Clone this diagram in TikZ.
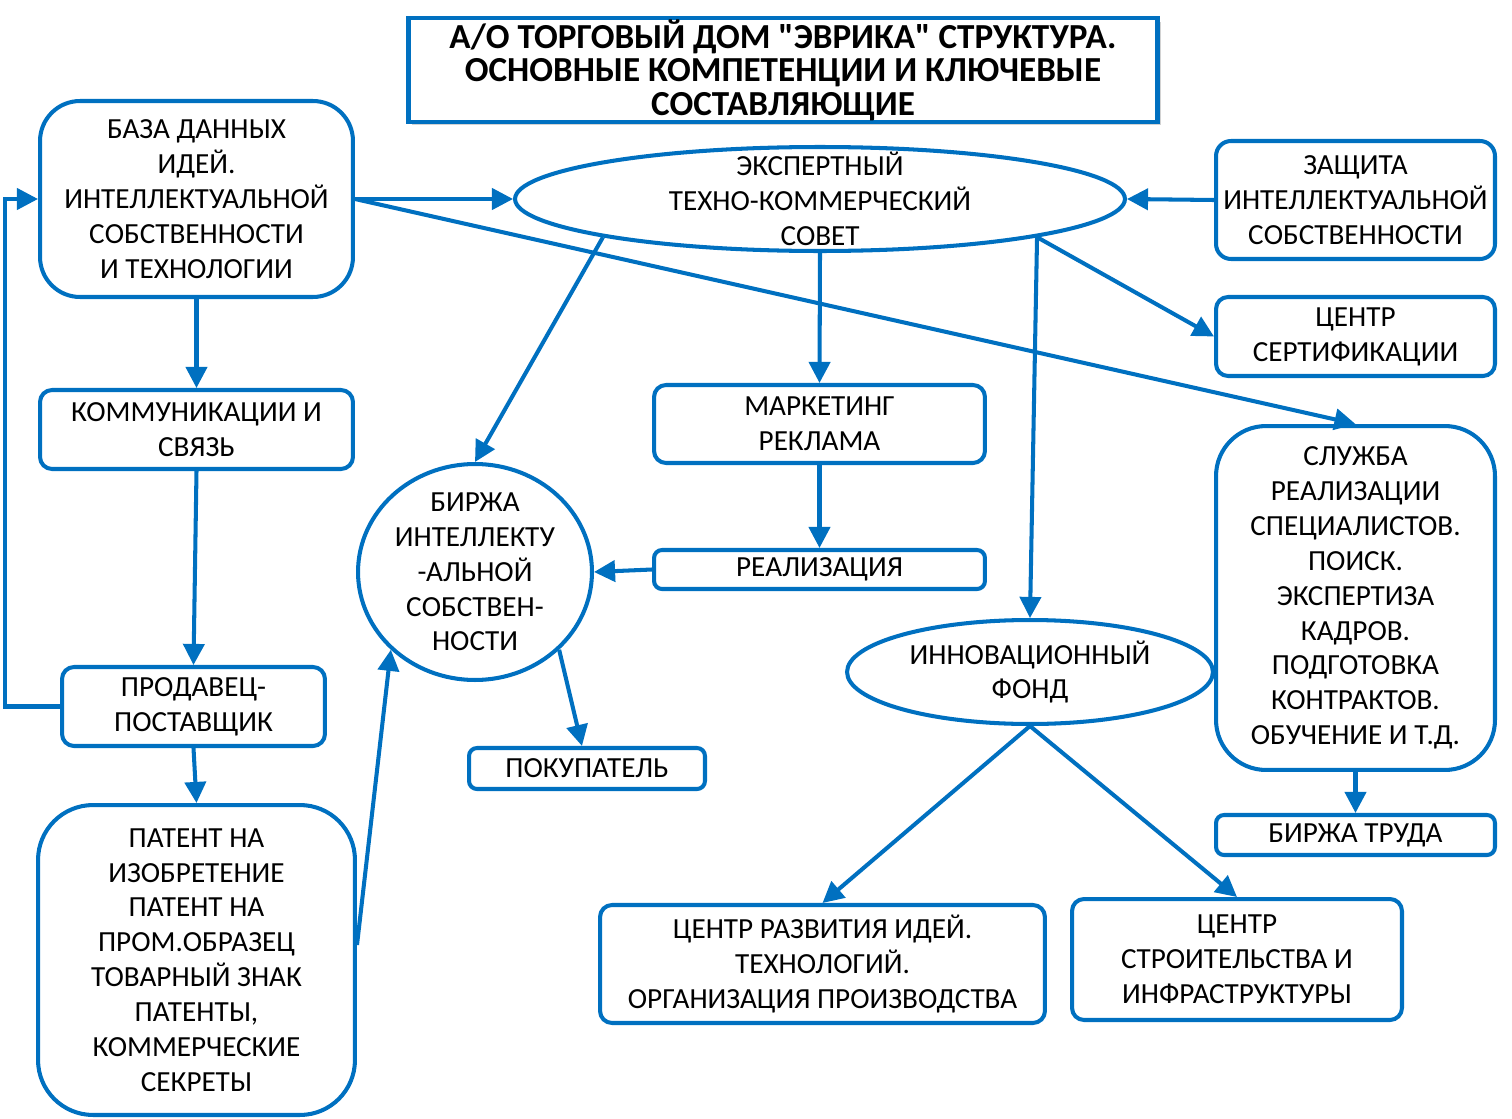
\documentclass[tikz,border=0pt]{standalone}
\usepackage{fontspec}
\setmainfont{Carlito}
\newfontfamily\titlefont{Carlito}
\usetikzlibrary{arrows.meta}
\usetikzlibrary{shapes.geometric}
\usetikzlibrary{shadows}
\definecolor{boxblue}{RGB}{0,112,192}

\begin{document}
\begin{tikzpicture}[x=0.02cm,y=-0.02cm,line width=2.3pt,
                every node/.style={font=\fontsize{16.6}{19.84}\selectfont,align=center,inner sep=0pt},
                box/.style={draw=boxblue,rounded corners=0.24cm},
                oval/.style={draw=boxblue,ellipse,inner sep=-0.4cm},
                link/.style={draw=boxblue,-{Triangle[length=12pt,width=12pt]}}]
                \useasboundingbox (0,0) rectangle (1512,1119);

                \node[draw=boxblue,line width=2.8pt,fill=white,minimum width=15cm,minimum height=2.08cm,
                      drop shadow={shadow xshift=0.07cm,shadow yshift=-0.07cm,fill=black!35},
                      font=\titlefont\fontsize{20}{19}\selectfont\bfseries] (title) at (783,70)
                      {А/О ТОРГОВЫЙ ДОМ "ЭВРИКА" СТРУКТУРА.\\ОСНОВНЫЕ КОМПЕТЕНЦИИ И КЛЮЧЕВЫЕ\\СОСТАВЛЯЮЩИЕ};

                \node[box,rounded corners=0.8cm,minimum width=6.26cm,minimum height=3.92cm] (db) at (196.5,199)
                      {БАЗА ДАННЫХ\\ИДЕЙ.\\ИНТЕЛЛЕКТУАЛЬНОЙ\\СОБСТВЕННОСТИ\\И ТЕХНОЛОГИИ};
                \node[box,minimum width=6.26cm,minimum height=1.58cm] (comm) at (196.5,429.5)
                      {КОММУНИКАЦИИ И\\СВЯЗЬ};
                \node[box,minimum width=5.26cm,minimum height=1.58cm] (seller) at (193.5,706.5)
                      {ПРОДАВЕЦ-\\ПОСТАВЩИК};
                \node[box,rounded corners=1.1cm,minimum width=6.34cm,minimum height=6.2cm] (patent) at (196.5,960)
                      {ПАТЕНТ НА\\ИЗОБРЕТЕНИЕ\\ПАТЕНТ НА\\ПРОМ.ОБРАЗЕЦ\\ТОВАРНЫЙ ЗНАК\\ПАТЕНТЫ,\\КОММЕРЧЕСКИЕ\\СЕКРЕТЫ};

                \node[oval,minimum width=12.2cm,minimum height=2.08cm] (council) at (820,199)
                      {ЭКСПЕРТНЫЙ\\ТЕХНО-КОММЕРЧЕСКИЙ\\СОВЕТ};
                \node[box,rounded corners=0.3cm,minimum width=5.58cm,minimum height=2.36cm] (protect) at (1355.5,200)
                      {ЗАЩИТА\\ИНТЕЛЛЕКТУАЛЬНОЙ\\СОБСТВЕННОСТИ};
                \node[box,minimum width=5.58cm,minimum height=1.58cm] (cert) at (1355.5,336.5)
                      {ЦЕНТР\\СЕРТИФИКАЦИИ};
                \node[box,minimum width=6.62cm,minimum height=1.56cm] (mkt) at (819.5,424)
                      {МАРКЕТИНГ\\РЕКЛАМА};
                \node[box,rounded corners=0.16cm,minimum width=6.62cm,minimum height=0.78cm] (real) at (819.5,569.5)
                      {РЕАЛИЗАЦИЯ};
                \node[oval,minimum width=4.68cm,minimum height=4.32cm] (exch) at (475,572)
                      {БИРЖА\\ИНТЕЛЛЕКТУ\\-АЛЬНОЙ\\СОБСТВЕН-\\НОСТИ};
                \node[box,rounded corners=0.16cm,minimum width=4.72cm,minimum height=0.82cm] (buyer) at (587,768.5)
                      {ПОКУПАТЕЛЬ};
                \node[oval,minimum width=7.32cm,minimum height=2.08cm] (fund) at (1030,672)
                      {ИННОВАЦИОННЫЙ\\ФОНД};
                \node[box,rounded corners=1cm,minimum width=5.58cm,minimum height=6.88cm] (service) at (1355.5,598)
                      {СЛУЖБА\\РЕАЛИЗАЦИИ\\СПЕЦИАЛИСТОВ.\\ПОИСК.\\ЭКСПЕРТИЗА\\КАДРОВ.\\ПОДГОТОВКА\\КОНТРАКТОВ.\\ОБУЧЕНИЕ И Т.Д.};
                \node[box,rounded corners=0.16cm,minimum width=5.58cm,minimum height=0.8cm] (labor) at (1355.5,835)
                      {БИРЖА ТРУДА};
                \node[box,minimum width=8.9cm,minimum height=2.36cm] (dev) at (822.5,964)
                      {ЦЕНТР РАЗВИТИЯ ИДЕЙ.\\ТЕХНОЛОГИЙ.\\ОРГАНИЗАЦИЯ ПРОИЗВОДСТВА};
                \node[box,minimum width=6.6cm,minimum height=2.42cm] (build) at (1237,959.5)
                      {ЦЕНТР\\СТРОИТЕЛЬСТВА И\\ИНФРАСТРУКТУРЫ};

                \coordinate (back) at (5,450);

                \draw[link] (db.east) -- (council.west);
                \draw[link] (protect.west) -- (council.east);
                \draw[link] (db.east) -- (service.north);
                \draw[link] (council.south west) -- (exch.north);
                \draw[link] (council.south) -- (mkt.north);
                \draw[link] (council.south east) -- (fund.north);
                \draw[link] (council.south east) -- (cert.west);
                \draw[link] (mkt.south) -- (real.north);
                \draw[link] (real.west) -- (exch.east);
                \draw[link] (exch.south east) -- ([xshift=-0.1cm]buyer.north);
                \draw[link] ([yshift=0.3cm]patent.east) -- (exch.south west);
                \draw[link] (db.south) -- (comm.north);
                \draw[link] (comm.south) -- (seller.north);
                \draw[link] (seller.south) -- (patent.north);
                \draw[link] (seller.west) -| (back) |- (db.west);
                \draw[link] (fund.south) -- (dev.north);
                \draw[link] (fund.south) -- (build.north);
                \draw[link] (service.south) -- (labor.north);
            \end{tikzpicture}
\end{document}
